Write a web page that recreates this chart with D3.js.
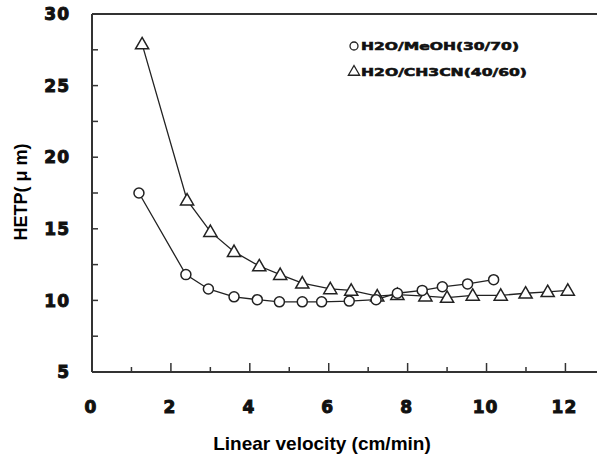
<!DOCTYPE html>
<html>
<head>
<meta charset="utf-8">
<script src="https://cdn.jsdelivr.net/npm/d3@7"></script>
<style>
  body { margin: 0; background: #fff; }
  svg { display: block; }
</style>
</head>
<body>
<div id="chart"></div>
<script>
// H2O/MeOH(30/70) - circles
const meohX = [1.19, 2.38, 2.95, 3.6, 4.19, 4.75, 5.33, 5.82, 6.52, 7.2, 7.74, 8.37, 8.88, 9.52, 10.18]
const meohY = [17.5, 11.8, 10.8, 10.25, 10.05, 9.9, 9.9, 9.9, 9.95, 10.05, 10.5, 10.7, 10.95, 11.15, 11.45]

// H2O/CH3CN(40/60) - triangles
const acnX = [1.27, 2.41, 3.0, 3.6, 4.24, 4.77, 5.33, 6.04, 6.57, 7.23, 7.74, 8.45, 9.0, 9.65, 10.36, 10.99, 11.55, 12.06]
const acnY = [27.9, 17.0, 14.8, 13.4, 12.4, 11.8, 11.2, 10.8, 10.7, 10.3, 10.4, 10.3, 10.2, 10.35, 10.35, 10.5, 10.6, 10.7]

const xTicks = [0, 2, 4, 6, 8, 10, 12]
const yTicks = [5, 10, 15, 20, 25, 30]

const legendLabels = ["H2O/MeOH(30/70)", "H2O/CH3CN(40/60)"]

const width = 597
const height = 457

const svg = d3.select("#chart").append("svg")
  .attr("width", width)
  .attr("height", height)

const x = d3.scaleLinear().domain([0, 12.8]).range([92, 597])
const y = d3.scaleLinear().domain([5, 30]).range([372, 14])

const axisColor = "#333"
const tickFont = "'DejaVu Sans', sans-serif"

// frame: left, bottom, top
svg.append("line").attr("x1", x(0)).attr("x2", x(0)).attr("y1", y(30)).attr("y2", y(5))
  .attr("stroke", axisColor).attr("stroke-width", 2)
svg.append("line").attr("x1", x(0)).attr("x2", width).attr("y1", y(5)).attr("y2", y(5))
  .attr("stroke", axisColor).attr("stroke-width", 2)
svg.append("line").attr("x1", x(0)).attr("x2", width).attr("y1", y(30)).attr("y2", y(30))
  .attr("stroke", axisColor).attr("stroke-width", 2)

// y ticks (inward, every 2.5)
svg.append("g")
  .selectAll("line")
  .data(d3.range(7.5, 30, 2.5))
  .join("line")
  .attr("x1", x(0)).attr("x2", x(0) + 6)
  .attr("y1", d => y(d)).attr("y2", d => y(d))
  .attr("stroke", axisColor).attr("stroke-width", 1.5)

// x ticks (inward, minor every 1, longer on even)
svg.append("g")
  .selectAll("line")
  .data(d3.range(1, 13, 1))
  .join("line")
  .attr("x1", d => x(d)).attr("x2", d => x(d))
  .attr("y1", y(5))
  .attr("y2", d => y(5) - (d % 2 === 0 ? 9 : 5))
  .attr("stroke", axisColor).attr("stroke-width", 1.5)

// tick labels (heavy)
svg.append("g")
  .selectAll("text")
  .data(yTicks)
  .join("text")
  .attr("x", 70)
  .attr("y", d => y(d))
  .attr("dy", "0.36em")
  .attr("text-anchor", "end")
  .attr("font-family", tickFont)
  .attr("font-weight", "bold")
  .attr("font-size", 17)
  .attr("letter-spacing", 1)
  .attr("fill", "#111")
  .attr("stroke", "#111").attr("stroke-width", 1)
  .text(d => d)

svg.append("g")
  .selectAll("text")
  .data(xTicks)
  .join("text")
  .attr("x", d => x(d) - 1)
  .attr("y", 407)
  .attr("dy", "0.36em")
  .attr("text-anchor", "middle")
  .attr("font-family", tickFont)
  .attr("font-weight", "bold")
  .attr("font-size", 17)
  .attr("letter-spacing", 1)
  .attr("fill", "#111")
  .attr("stroke", "#111").attr("stroke-width", 1)
  .text(d => d)

// axis titles
svg.append("text")
  .attr("x", 322).attr("y", 450)
  .attr("text-anchor", "middle")
  .attr("font-family", "'Liberation Sans', Arial, sans-serif")
  .attr("font-weight", "bold")
  .attr("font-size", 19)
  .attr("fill", "#000")
  .text("Linear velocity (cm/min)")

svg.append("text")
  .attr("transform", "translate(27,192) rotate(-90)")
  .attr("text-anchor", "middle")
  .attr("font-family", "'Liberation Sans', Arial, sans-serif")
  .attr("font-weight", "bold")
  .attr("font-size", 18)
  .attr("fill", "#000")
  .text("HETP( μ m)")

// series
const line = d3.line().x(d => x(d[0])).y(d => y(d[1]))
const meoh = d3.zip(meohX, meohY)
const acn = d3.zip(acnX, acnY)

svg.append("path").datum(acn).attr("d", line)
  .attr("fill", "none").attr("stroke", "#222").attr("stroke-width", 1.3)
svg.append("path").datum(meoh).attr("d", line)
  .attr("fill", "none").attr("stroke", "#222").attr("stroke-width", 1.3)

const tri = d3.symbol().type(d3.symbolTriangle).size(75)

svg.append("g").selectAll("path")
  .data(acn).join("path")
  .attr("transform", d => `translate(${x(d[0])},${y(d[1]) + 1})`)
  .attr("d", tri)
  .attr("fill", "#fff").attr("stroke", "#222").attr("stroke-width", 1.5)

svg.append("g").selectAll("circle")
  .data(meoh).join("circle")
  .attr("cx", d => x(d[0])).attr("cy", d => y(d[1]))
  .attr("r", 5)
  .attr("fill", "#fff").attr("stroke", "#222").attr("stroke-width", 1.5)

// legend
const legend = svg.append("g")
legend.append("circle").attr("cx", 354).attr("cy", 46).attr("r", 4)
  .attr("fill", "#fff").attr("stroke", "#222").attr("stroke-width", 1.3)
legend.append("path").attr("transform", "translate(354,72)")
  .attr("d", d3.symbol().type(d3.symbolTriangle).size(55))
  .attr("fill", "#fff").attr("stroke", "#222").attr("stroke-width", 1.3)

legend.selectAll("text")
  .data(legendLabels)
  .join("text")
  .attr("x", 361)
  .attr("y", (d, i) => 46 + i * 26)
  .attr("dy", "0.36em")
  .attr("font-family", tickFont)
  .attr("font-weight", "bold")
  .attr("font-size", 11)
  .attr("textLength", (d, i) => i === 0 ? 158 : 166)
  .attr("lengthAdjust", "spacingAndGlyphs")
  .attr("fill", "#111")
  .attr("stroke", "#111").attr("stroke-width", 0.6)
  .text(d => d)
</script>
</body>
</html>
